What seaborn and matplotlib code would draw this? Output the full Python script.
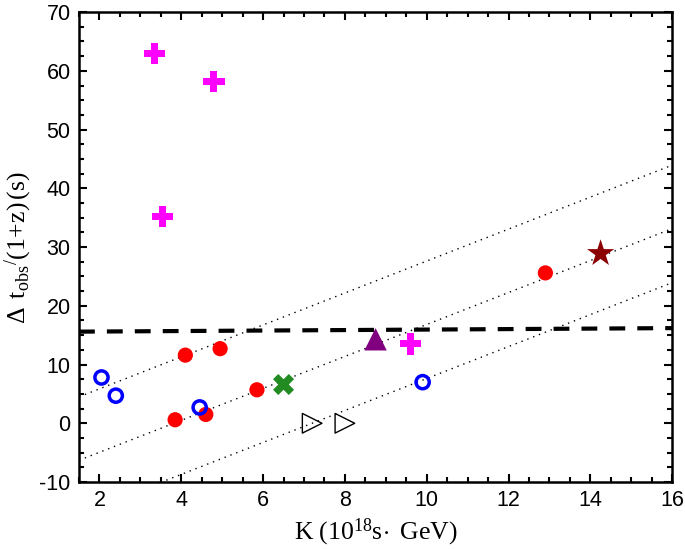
import numpy as np
import pandas as pd
import matplotlib
matplotlib.use("Agg")
import matplotlib.pyplot as plt
import seaborn as sns

# data
plus_k = [3.35, 4.8, 3.55, 9.6]
plus_t = [63.0, 58.2, 35.2, 13.5]

open_circ_k = [2.05, 2.4, 4.45, 9.9]
open_circ_t = [7.8, 4.7, 2.7, 7.0]

red_k = [4.1, 4.95, 3.85, 4.6, 5.85, 12.9]
red_t = [11.6, 12.7, 0.6, 1.5, 5.7, 25.6]

cross_k = [6.5]
cross_t = [6.6]

tri_k = [8.75]
tri_t = [14.3]

star_k = [14.25]
star_t = [28.9]

open_tri_k = [7.2, 8.0]
open_tri_t = [0.0, 0.0]

# dotted parallel lines: value at K=1.5 and common slope
dot_slope = 2.72
dot_offsets = [4.5, -6.3, -15.5]

# dashed line end values
dash_k = [1.5, 16.0]
dash_t = [15.6, 16.2]

sns.set_style("ticks")
plt.rcParams["font.family"] = ["Liberation Sans", "DejaVu Sans"]
plt.rcParams["mathtext.fontset"] = "custom"
plt.rcParams["mathtext.rm"] = "Liberation Serif"
plt.rcParams["mathtext.it"] = "Liberation Serif:italic"
plt.rcParams["axes.unicode_minus"] = False
plt.rcParams["text.color"] = "black"
plt.rcParams["axes.labelcolor"] = "black"
plt.rcParams["xtick.color"] = "black"
plt.rcParams["ytick.color"] = "black"

fig = plt.figure(figsize=(6.85, 5.49), dpi=100)
ax = fig.add_axes([0.1153, 0.122, 0.866, 0.856])

k_line = np.array([1.5, 16.0])
for off in dot_offsets:
    ax.plot(k_line, off + dot_slope * (k_line - 1.5), color="black",
            linestyle=(0, (1, 3.5)), linewidth=1.0, zorder=1)

sns.lineplot(x=dash_k, y=dash_t, color="black", linewidth=3.0,
             linestyle=(0, (3.8, 2.9)), ax=ax, zorder=2)

sns.scatterplot(x=plus_k, y=plus_t, marker="P", s=230, color="magenta",
                edgecolor="none", ax=ax, zorder=3)
sns.scatterplot(x=red_k, y=red_t, marker="o", s=120, color="red",
                edgecolor="none", ax=ax, zorder=3)
ax.scatter(open_circ_k, open_circ_t, marker="o", s=90, facecolors="none",
           edgecolors="blue", linewidths=2.5, zorder=3)
sns.scatterplot(x=cross_k, y=cross_t, marker="X", s=230, color="#228B22",
                edgecolor="none", ax=ax, zorder=3)
sns.scatterplot(x=tri_k, y=tri_t, marker="^", s=260, color="purple",
                edgecolor="none", ax=ax, zorder=3)
sns.scatterplot(x=star_k, y=star_t, marker="*", s=420, color="#8B0000",
                edgecolor="none", ax=ax, zorder=3)
ax.scatter(open_tri_k, open_tri_t, marker=">", s=200, facecolors="none",
           edgecolors="black", linewidths=1.0, zorder=3)

ax.set_xlim(1.5, 16)
ax.set_ylim(-10, 70)
ax.set_xticks(np.arange(2, 17, 2))
ax.set_xticks(np.arange(1.5, 16.01, 0.5), minor=True)
ax.set_yticks(np.arange(-10, 71, 10))
ax.set_yticks(np.arange(-10, 70.1, 2.5), minor=True)

for s in ax.spines.values():
    s.set_visible(True)
    s.set_linewidth(1.8)
    s.set_color("black")

ax.tick_params(which="both", direction="in", top=True, right=True,
               color="black", width=1.5)
ax.tick_params(which="major", length=6, labelsize=15.5, pad=6)
ax.tick_params(which="minor", length=3.5)

ax.set_xlabel(r"$\mathrm{K\ (10^{18}s\!\cdot\ GeV)}$", fontsize=18.5, labelpad=4)
ax.set_ylabel(r"$\mathrm{\Delta\ \,{t_{obs}}^{/}(1\!+\!z)\,(s)}$", fontsize=18.5, labelpad=4)

plt.savefig("out.png", dpi=100)
plt.close()
